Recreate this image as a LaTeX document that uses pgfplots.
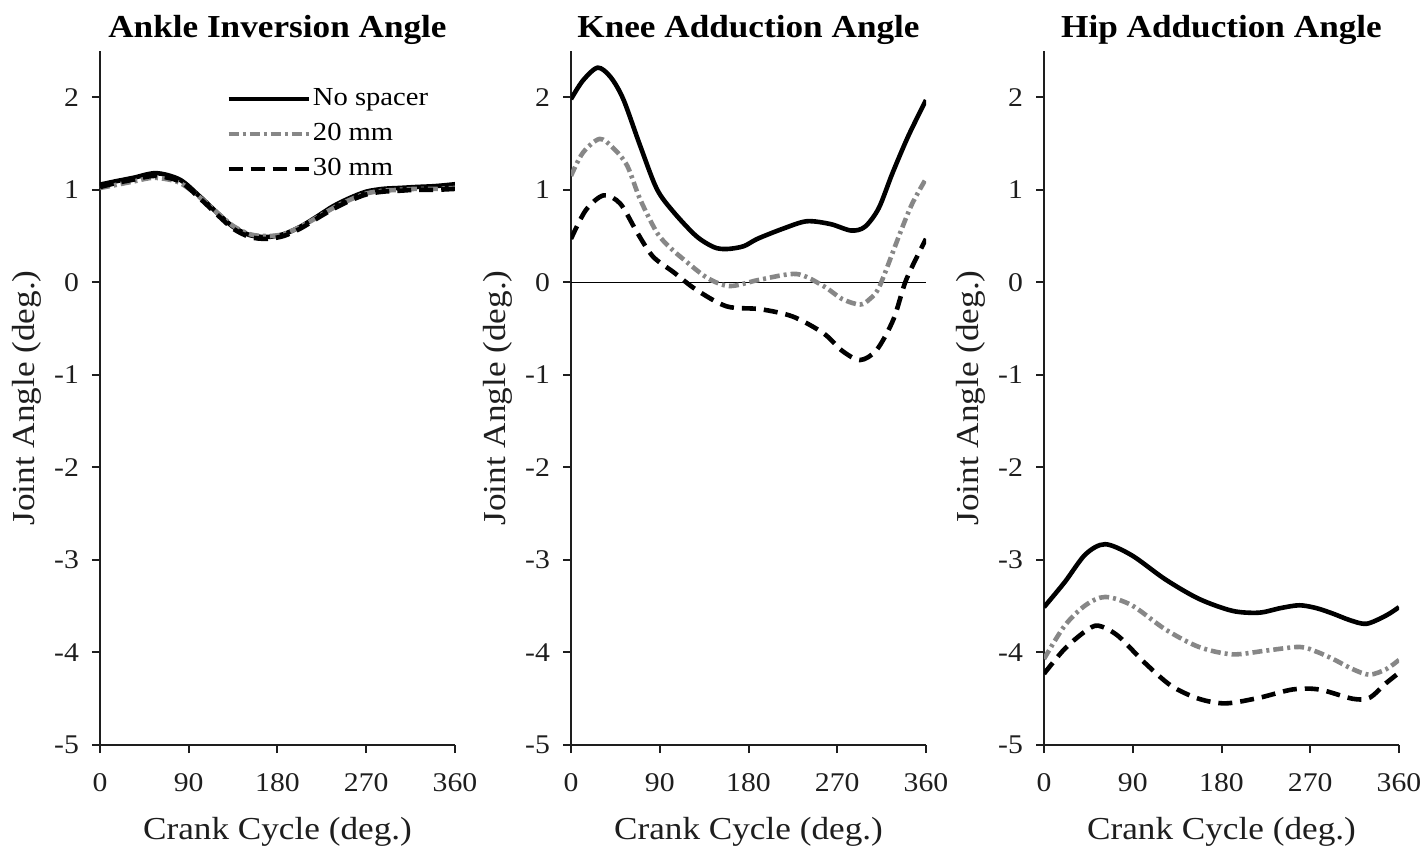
\documentclass[border=0pt]{standalone}
\usepackage{fontspec}
\setmainfont{Liberation Serif}[FakeStretch=1.1]
\usepackage{pgfplots}
\pgfplotsset{compat=1.18}
\definecolor{midgray}{RGB}{135,135,135}
\definecolor{axisk}{RGB}{30,30,30}
\pgfplotsset{
  panel/.style={
    scale only axis, width=177.5pt, height=347pt,
    xmin=0, xmax=360, ymin=-5, ymax=2.5,
    xtick={0,90,180,270,360}, ytick={-5,-4,-3,-2,-1,0,1,2},
    axis x line=bottom, axis y line=left,
    axis line style={-, line width=1pt, axisk},
    tick align=outside, major tick length=4pt,
    tick style={line width=1pt, axisk},
    /pgf/number format/assume math mode=true,
    ticklabel style={font=\fontsize{13.5}{16}\selectfont, text=axisk},
    xticklabel style={yshift=-6.5pt},
    yticklabel style={xshift=-3pt},
    label style={font=\fontsize{16}{19}\selectfont, text=axisk},
    xlabel={Crank Cycle (deg.)}, ylabel={Joint Angle (deg.)},
    xlabel style={at={([yshift=-47pt]axis description cs:0.5,0)}, anchor=base},
    ylabel style={at={([xshift=-36.5pt]axis description cs:0,0.5)}, anchor=center},
    title style={font=\bfseries\fontsize{16}{19}\selectfont, at={([yshift=1pt]axis description cs:0.5,1)}, anchor=base},
  },
  nosp/.style={black, line width=2.3pt, smooth},
  mmA/.style={midgray, line width=2.3pt, dash pattern=on 5pt off 2pt on 1.5pt off 2pt, smooth},
  mmB/.style={black, line width=2.3pt, dash pattern=on 7pt off 4pt, smooth},
}
\begin{document}
\begin{tikzpicture}
% ---------- Panel 1 ----------
\begin{axis}[panel, at={(0pt,0pt)}, anchor=south west, title={Ankle Inversion Angle},
  legend image code/.code={\draw[#1] (0pt,0pt) -- (40pt,0pt);},
  legend cell align=left,
  legend style={draw=none, fill=none, at={(axis description cs:0.338,0.958)}, anchor=north west,
    font=\fontsize{13}{15}\selectfont, row sep=3pt,
    nodes={inner sep=1pt, text height=9.5pt, text depth=3pt}}]
\addplot[nosp] coordinates {(0,1.056)(15,1.09)(34,1.13)(57,1.18)(81,1.11)(101,0.93)(118,0.76)(135,0.60)(152,0.51)(169,0.49)(186,0.52)(203,0.60)(220,0.71)(236,0.82)(253,0.91)(270,0.98)(287,1.01)(304,1.02)(320,1.03)(340,1.04)(360,1.06)};
\addlegendentry{No spacer}
\addplot[mmA] coordinates {(0,1.02)(15,1.05)(34,1.09)(55,1.13)(80,1.08)(101,0.92)(118,0.76)(135,0.61)(152,0.52)(169,0.50)(186,0.52)(203,0.60)(220,0.70)(236,0.80)(253,0.89)(270,0.96)(287,0.99)(304,1.00)(320,1.01)(340,1.01)(360,1.02)};
\addlegendentry{20 mm}
\addplot[mmB] coordinates {(0,1.03)(15,1.07)(34,1.11)(56,1.15)(81,1.09)(101,0.91)(118,0.74)(135,0.58)(152,0.49)(169,0.47)(186,0.50)(203,0.58)(220,0.69)(236,0.79)(253,0.88)(270,0.95)(287,0.98)(304,0.99)(320,1.00)(340,1.00)(360,1.01)};
\addlegendentry{30 mm}
\end{axis}
% ---------- Panel 2 ----------
\begin{axis}[panel, at={(235.5pt,0pt)}, anchor=south west, title={Knee Adduction Angle}]
\addplot[black, line width=0.6pt] coordinates {(0,0)(360,0)};
\addplot[nosp] coordinates {(0,1.98)(12,2.18)(27,2.32)(40,2.22)(53,1.98)(70,1.48)(87,1.01)(104,0.76)(127,0.50)(145,0.38)(158,0.36)(175,0.39)(189,0.47)(215,0.58)(239,0.66)(263,0.63)(284,0.56)(298,0.60)(312,0.80)(326,1.18)(342,1.58)(360,1.97)};
\addplot[mmA] coordinates {(0,1.15)(12,1.40)(29,1.55)(43,1.45)(57,1.26)(70,0.90)(87,0.54)(100,0.38)(114,0.25)(138,0.05)(161,-0.04)(192,0.03)(229,0.09)(256,-0.04)(275,-0.18)(293,-0.24)(303,-0.18)(313,-0.04)(334,0.54)(346,0.85)(360,1.12)};
\addplot[mmB] coordinates {(0,0.47)(15,0.78)(33,0.94)(50,0.85)(67,0.54)(83,0.28)(104,0.11)(127,-0.08)(158,-0.26)(192,-0.29)(225,-0.37)(256,-0.55)(275,-0.74)(293,-0.84)(310,-0.73)(327,-0.40)(340,0.03)(360,0.47)};
\end{axis}
% ---------- Panel 3 ----------
\begin{axis}[panel, at={(472pt,0pt)}, anchor=south west, title={Hip Adduction Angle}]
\addplot[nosp] coordinates {(0,-3.51)(21,-3.24)(42,-2.94)(62,-2.83)(89,-2.95)(123,-3.21)(157,-3.42)(191,-3.55)(218,-3.57)(240,-3.52)(259,-3.49)(276,-3.52)(293,-3.58)(310,-3.65)(327,-3.69)(347,-3.60)(360,-3.51)};
\addplot[mmA] coordinates {(0,-4.07)(21,-3.71)(42,-3.49)(62,-3.40)(89,-3.49)(123,-3.75)(157,-3.94)(191,-4.02)(225,-3.98)(259,-3.94)(276,-3.99)(293,-4.07)(313,-4.18)(330,-4.24)(347,-4.18)(360,-4.08)};
\addplot[mmB] coordinates {(0,-4.23)(21,-3.96)(42,-3.77)(55,-3.71)(75,-3.82)(102,-4.11)(129,-4.36)(157,-4.50)(184,-4.55)(218,-4.49)(252,-4.40)(279,-4.40)(313,-4.50)(330,-4.49)(347,-4.33)(360,-4.22)};
\end{axis}
\pgfresetboundingbox
\useasboundingbox (-50pt,-51.5pt) rectangle (664pt,372.5pt);
\end{tikzpicture}
\end{document}
